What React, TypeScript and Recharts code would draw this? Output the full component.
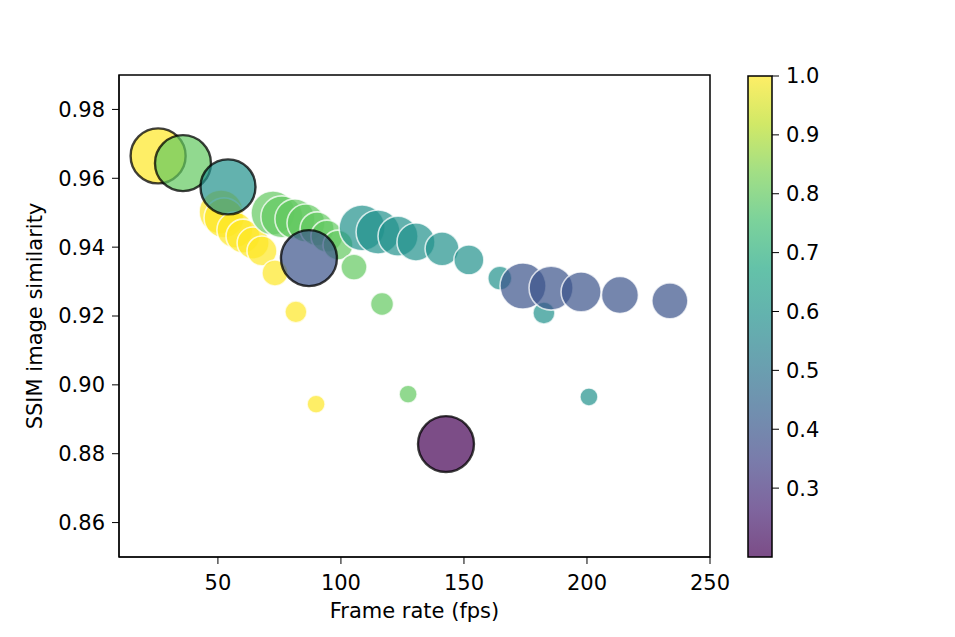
import { ScatterChart, Scatter, XAxis, YAxis, ZAxis, ReferenceArea, ComposedChart } from "recharts";

// regular runs (white edge), grouped by method
const fps = [
  51.3, 52.5, 56.9, 60.2, 64.3, 67.9, 73.2, 81.7, 89.9,
  72.4, 76.0, 81.3, 85.8, 90.3, 94.3, 98.8, 105.3, 116.7, 127.3,
  108.6, 115.1, 123.2, 130.5, 141.1, 152.0, 164.6, 182.5, 200.8,
  174.0, 185.4, 197.6, 213.4, 233.7,
];
const ssim = [
  0.9502, 0.9485, 0.945, 0.9432, 0.9412, 0.9389, 0.9325, 0.9212, 0.8944,
  0.9499, 0.9488, 0.9482, 0.947, 0.9453, 0.9432, 0.9406, 0.9342, 0.9235, 0.8973,
  0.9456, 0.9444, 0.9432, 0.9415, 0.9395, 0.9363, 0.931, 0.9209, 0.8965,
  0.9287, 0.9281, 0.927, 0.9261, 0.9244,
];
const bubbleSize = [
  446, 369, 299, 266, 236, 207, 156, 112, 75,
  446, 406, 369, 333, 266, 236, 207, 156, 122, 75,
  487, 446, 369, 333, 266, 207, 133, 112, 75,
  487, 446, 369, 315, 299,
];
const score = [
  1, 1, 1, 1, 1, 1, 1, 1, 1,
  0.8, 0.8, 0.8, 0.8, 0.8, 0.8, 0.8, 0.8, 0.8, 0.8,
  0.59, 0.59, 0.59, 0.59, 0.59, 0.59, 0.59, 0.59, 0.59,
  0.39, 0.39, 0.39, 0.39, 0.39,
];

// reference runs (black edge)
const refFps = [25.7, 35.8, 54.1, 87.0, 142.7];
const refSsim = [0.9665, 0.9644, 0.9575, 0.9368, 0.8828];
const refSize = [697, 722, 697, 722, 722];
const refScore = [1.0, 0.8, 0.59, 0.39, 0.183];

const xTicks = [50, 100, 150, 200, 250];
const yTicks = [0.86, 0.88, 0.9, 0.92, 0.94, 0.96, 0.98];
const cbarTicks = [0.3, 0.4, 0.5, 0.6, 0.7, 0.8, 0.9, 1.0];

const VMIN = 0.183;
const VMAX = 1.0;
const VIRIDIS = [
  "#440154", "#482475", "#414487", "#355f8d", "#2a788e", "#21918c",
  "#22a884", "#44bf70", "#7ad151", "#bddf26", "#fde725",
];

function hex(c: string) {
  return [1, 3, 5].map((i) => parseInt(c.slice(i, i + 2), 16));
}

function viridis(t: number) {
  const u = Math.min(1, Math.max(0, t)) * (VIRIDIS.length - 1);
  const i = Math.min(VIRIDIS.length - 2, Math.floor(u));
  const f = u - i;
  const a = hex(VIRIDIS[i]);
  const b = hex(VIRIDIS[i + 1]);
  const m = a.map((v, k) => Math.round(v + (b[k] - v) * f));
  return `rgb(${m[0]},${m[1]},${m[2]})`;
}

const colorFor = (v: number) => viridis((v - VMIN) / (VMAX - VMIN));

const points = fps.map((x, i) => ({ x, y: ssim[i], s: bubbleSize[i], c: score[i] }));
const refPoints = refFps.map((x, i) => ({ x, y: refSsim[i], s: refSize[i], c: refScore[i] }));
const cbarData = [
  { x: 0, v: VMIN },
  { x: 1, v: VMAX },
];

const font = "DejaVu Sans";
const tickStyle = { fontSize: 21, fill: "#000", fontFamily: font };

function bubble(edge: string, edgeWidth: number) {
  return (p: any) => {
    const r = p.width ? p.width / 2 : Math.sqrt((p.size ?? 64) / Math.PI);
    return (
      <circle
        cx={p.cx}
        cy={p.cy}
        r={r}
        fill={colorFor(p.payload.c)}
        fillOpacity={0.7}
        stroke={edge}
        strokeOpacity={0.75}
        strokeWidth={edgeWidth}
      />
    );
  };
}

export default function App() {
  return (
    <div style={{ position: "absolute", left: 0, top: 0, width: 955, height: 637, background: "#fff", fontFamily: font }}>
      <div style={{ position: "absolute", left: 0, top: 0 }}>
        <ScatterChart width={955} height={637} margin={{ top: 75, right: 245, bottom: 19, left: 0 }}>
          <XAxis
            type="number"
            dataKey="x"
            domain={[9.8, 250]}
            ticks={xTicks}
            allowDataOverflow
            interval={0}
            height={61}
            stroke="#000"
            tickSize={7}
            tickMargin={11}
            tick={tickStyle}
            label={{ value: "Frame rate (fps)", position: "insideBottom", offset: 0, fontSize: 21, fill: "#000", fontFamily: font }}
          />
          <YAxis
            type="number"
            dataKey="y"
            domain={[0.85, 0.99]}
            ticks={yTicks}
            allowDataOverflow
            interval={0}
            width={119}
            stroke="#000"
            tickSize={7}
            tickMargin={7}
            tick={tickStyle}
            tickFormatter={(v: number) => v.toFixed(2)}
            label={{
              value: "SSIM image similarity",
              angle: -90,
              position: "insideLeft",
              offset: 35,
              fontSize: 21,
              fill: "#000",
              fontFamily: font,
              style: { textAnchor: "middle" },
            }}
          />
          <ZAxis type="number" dataKey="s" domain={[0, 800]} range={[0, (800 * Math.PI) / 0.9216]} />
          <ReferenceArea x1={9.8} x2={250} y1={0.85} y2={0.99} fill="none" fillOpacity={0} stroke="#000" strokeWidth={1.5} />
          <Scatter data={points} shape={bubble("#fff", 1.6)} isAnimationActive={false} />
          <Scatter data={refPoints} shape={bubble("#000", 2.4)} isAnimationActive={false} />
        </ScatterChart>
      </div>
      <div style={{ position: "absolute", left: 728, top: 0 }}>
        <ComposedChart width={140} height={637} data={cbarData} margin={{ top: 76, right: 16, bottom: 80, left: 20 }}>
          <defs>
            <linearGradient id="cbar" x1="0" y1="1" x2="0" y2="0">
              {VIRIDIS.map((c, i) => (
                <stop key={c} offset={`${(i / (VIRIDIS.length - 1)) * 100}%`} stopColor={c} />
              ))}
            </linearGradient>
          </defs>
          <XAxis type="number" dataKey="x" domain={[0, 1]} hide />
          <YAxis
            type="number"
            dataKey="v"
            orientation="right"
            domain={[VMIN, VMAX]}
            ticks={cbarTicks}
            allowDataOverflow
            interval={0}
            width={80}
            axisLine={false}
            stroke="#000"
            tickSize={7}
            tickMargin={7}
            tick={tickStyle}
            tickFormatter={(v: number) => v.toFixed(1)}
          />
          <ReferenceArea
            x1={0}
            x2={1}
            y1={VMIN}
            y2={VMAX}
            ifOverflow="visible"
            fill="url(#cbar)"
            fillOpacity={0.7}
            stroke="#000"
            strokeWidth={1.5}
          />
        </ComposedChart>
      </div>
    </div>
  );
}
